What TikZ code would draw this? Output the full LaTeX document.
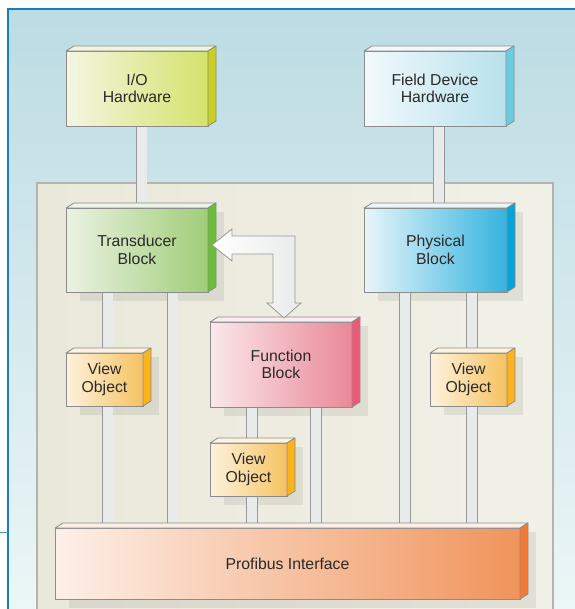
\documentclass[tikz,border=0pt]{standalone}
\usepackage{fontspec}
\setmainfont{Liberation Sans}
\usetikzlibrary{calc,positioning}

\pgfdeclarelayer{background}
\pgfdeclarelayer{bars}
\pgfsetlayers{background,bars,main}

\definecolor{skyTop}{HTML}{BCDCE3}
\definecolor{skyBot}{HTML}{ECF6F7}
\definecolor{frameBlue}{HTML}{1B7DB6}
\definecolor{panelL}{HTML}{EAE8DA}
\definecolor{panelR}{HTML}{F2F1E8}
\definecolor{panelLine}{HTML}{B3B3B3}
\definecolor{boxline}{HTML}{8C8C8C}
\definecolor{barline}{HTML}{979999}
\definecolor{barfill}{HTML}{E9EBEB}
\definecolor{txt}{HTML}{2A2A2A}
% box colours: L/R front, T top, S side
\definecolor{ioL}{HTML}{F3F6E2}\definecolor{ioR}{HTML}{D5E26C}
\definecolor{ioT}{HTML}{F1F4DE}\definecolor{ioS}{HTML}{C9CF1F}
\definecolor{fdL}{HTML}{F2F9FB}\definecolor{fdR}{HTML}{B8E1EC}
\definecolor{fdT}{HTML}{F2F8FA}\definecolor{fdS}{HTML}{6BCCE1}
\definecolor{trL}{HTML}{EBF2E2}\definecolor{trR}{HTML}{A0CD78}
\definecolor{trT}{HTML}{EEF4E8}\definecolor{trS}{HTML}{6CBC36}
\definecolor{phL}{HTML}{E9F5FA}\definecolor{phR}{HTML}{33B3DF}
\definecolor{phT}{HTML}{EAF5FA}\definecolor{phS}{HTML}{04A3D9}
\definecolor{fbL}{HTML}{FAE8EA}\definecolor{fbR}{HTML}{EA8898}
\definecolor{fbT}{HTML}{FBEDEF}\definecolor{fbS}{HTML}{EC5A78}
\definecolor{voL}{HTML}{FDF2DE}\definecolor{voR}{HTML}{F6C25F}
\definecolor{voT}{HTML}{FDF3E2}\definecolor{voS}{HTML}{FBB41E}
\definecolor{pfL}{HTML}{FDF0E9}\definecolor{pfR}{HTML}{F0945B}
\definecolor{pfT}{HTML}{FCEFE8}\definecolor{pfS}{HTML}{F27A35}

% top and side faces of a block
\newcommand{\boxfaces}[3]{%
  \draw[face,fill=#2] (#1.north west) -- ++(8,-5) -- ($(#1.north east)+(8,-5)$) -- (#1.north east) -- cycle;
  \draw[face,fill=#3] (#1.north east) -- ++(8,-5) -- ($(#1.south east)+(8,-5)$) -- (#1.south east) -- cycle;
}

\begin{document}
\begin{tikzpicture}[x=1pt,y=-1pt,
    box/.style={draw=boxline, line width=0.8pt, outer sep=0pt, align=center, text=txt,
        font=\fontsize{15.8}{17.7}\selectfont},
    face/.style={draw=boxline, line width=0.8pt, line join=round},
    bar/.style={draw=barline, line width=0.8pt, double=barfill, double distance=10pt},
    shade/.style={fill=black, opacity=0.07},
    hollow/.style={draw=barline, line width=0.8pt, left color=white, right color=barfill}
]
\useasboundingbox (0,0) rectangle (574,609);

% background and panel
\begin{pgfonlayer}{background}
\fill[white] (0,0) rectangle (574,609);
\fill[top color=skyTop, bottom color=skyBot] (8,9) rectangle (576,611);
\draw[frameBlue, line width=2pt] (8,611) -- (8,9) -- (576,9);
\draw[frameBlue!80, line width=1pt] (0,532) -- (8,532);
\draw[panelLine, line width=1.5pt, left color=panelL, right color=panelR] (37,183) rectangle (553,612);
\end{pgfonlayer}

% hardware
\node[box, minimum width=142pt, minimum height=75pt, left color=ioL, right color=ioR] (io) at (137,88.5) {I/O\\Hardware};
\boxfaces{io}{ioT}{ioS}
\node[box, minimum width=142pt, minimum height=75pt, left color=fdL, right color=fdR] (field) at (435,88.5) {Field Device\\Hardware};
\boxfaces{field}{fdT}{fdS}

% blocks
\node[box, minimum width=142pt, minimum height=84pt, left color=trL, right color=trR] (trans) at (137,250) {Transducer\\Block};
\boxfaces{trans}{trT}{trS}
\node[box, minimum width=143pt, minimum height=84pt, left color=phL, right color=phR] (phys) at (435.5,250) {Physical\\Block};
\boxfaces{phys}{phT}{phS}
\node[box, minimum width=142pt, minimum height=85pt, left color=fbL, right color=fbR] (func) at (281,364.5) {Function\\Block};
\boxfaces{func}{fbT}{fbS}

% view objects
\node[box, minimum width=77pt, minimum height=53pt, left color=voL, right color=voR] (vo1) at (104.5,379.5) {View\\Object};
\boxfaces{vo1}{voT}{voS}
\node[box, minimum width=77pt, minimum height=53pt, left color=voL, right color=voR] (vo3) at (468.5,379.5) {View\\Object};
\boxfaces{vo3}{voT}{voS}
\node[box, minimum width=77pt, minimum height=53pt, left color=voL, right color=voR] (vo2) at (248.5,469.5) {View\\Object};
\boxfaces{vo2}{voT}{voS}

% interface
\node[box, minimum width=465pt, minimum height=71pt, left color=pfL, right color=pfR] (prof) at (287.5,563.5) {Profibus Interface};
\boxfaces{prof}{pfT}{pfS}

% shadows on the panel
\begin{pgfonlayer}{background}
\foreach \n in {trans,phys,func,vo1,vo2,vo3,prof}
  \fill[shade] ($(\n.north west)+(14,4)$) rectangle ($(\n.south east)+(16,9)$);
\end{pgfonlayer}

% connectors
\begin{pgfonlayer}{bars}
\draw[bar] ([xshift=4.5pt]io.center) -- ([xshift=4.5pt]io.center |- trans.center);
\draw[bar] ([xshift=4pt]field.center) -- ([xshift=4pt]field.center |- phys.center);
\draw[bar] ([xshift=3pt]vo1.center |- trans.center) -- ([xshift=3pt]vo1.center);
\draw[bar] ([xshift=3pt]vo1.center) -- ([xshift=3pt]vo1.center |- prof.center);
\draw[bar] ([xshift=35.5pt]trans.center) -- ([xshift=35.5pt]trans.center |- prof.center);
\draw[bar] ([xshift=3.5pt]vo2.center |- func.center) -- ([xshift=3.5pt]vo2.center);
\draw[bar] ([xshift=3.5pt]vo2.center) -- ([xshift=3.5pt]vo2.center |- prof.center);
\draw[bar] ([xshift=35pt]func.center) -- ([xshift=35pt]func.center |- prof.center);
\draw[bar] ([xshift=-30.5pt]phys.center) -- ([xshift=-30.5pt]phys.center |- prof.center);
\draw[bar] ([xshift=3.5pt]vo3.center |- phys.center) -- ([xshift=3.5pt]vo3.center);
\draw[bar] ([xshift=3.5pt]vo3.center) -- ([xshift=3.5pt]vo3.center |- prof.center);
\end{pgfonlayer}

% data exchange arrow
\coordinate (lt) at ($(trans.east)+(4,-5)$);
\coordinate (dt) at ($(func.north)+(3,-4)$);
\draw[hollow] (lt) -- ++(20,-16) -- ++(0,7) -- ($(dt|-lt)+(11,-9)$) -- ($(dt)+(11,-15)$)
    -- ++(6,0) -- (dt) -- ++(-17,-15) -- ++(6,0) -- ($(dt|-lt)+(-11,9)$)
    -- ($(lt)+(20,9)$) -- ++(0,7) -- cycle;

\end{tikzpicture}
\end{document}
